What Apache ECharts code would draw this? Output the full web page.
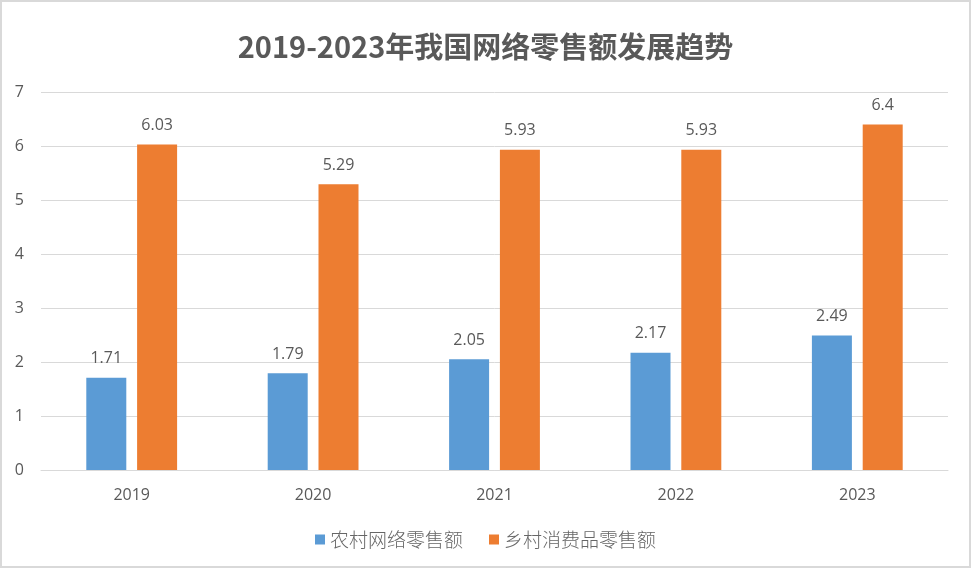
<!DOCTYPE html>
<html>
<head>
<meta charset="utf-8">
<script src="https://cdn.jsdelivr.net/npm/echarts@6/dist/echarts.min.js"></script>
<style>
  html, body { margin: 0; padding: 0; background: #fff; }
  #main { width: 971px; height: 568px; }
</style>
</head>
<body>
<div id="main"></div>
<script type="text/javascript">
// data
var years = ['2019', '2020', '2021', '2022', '2023'];
var ruralOnline = [1.71, 1.79, 2.05, 2.17, 2.49];
var ruralConsumer = [6.03, 5.29, 5.93, 5.93, 6.4];
var seriesNames = ['农村网络零售额', '乡村消费品零售额'];

var textColor = '#595959';
var numFont = '"Open Sans", "Noto Sans", sans-serif';
var cjkFont = '"Noto Sans CJK SC", sans-serif';

var chart = echarts.init(document.getElementById('main'));

var barLabel = {
    show: true,
    position: 'top',
    distance: 11,
    color: textColor,
    fontSize: 16,
    fontFamily: numFont
};

var option = {
    backgroundColor: '#fff',
    animation: false,
    title: {
        text: '2019-2023年我国网络零售额发展趋势',
        left: 'center',
        top: 27,
        textStyle: {
            color: textColor,
            fontSize: 29,
            fontWeight: 'bold',
            fontFamily: cjkFont
        }
    },
    legend: {
        data: seriesNames,
        left: 'center',
        top: 525,
        itemWidth: 10,
        itemHeight: 10,
        itemGap: 26,
        icon: 'rect',
        textStyle: {
            color: '#666',
            fontSize: 19,
            fontWeight: 300,
            fontFamily: cjkFont
        }
    },
    grid: {
        left: 41,
        right: 23,
        top: 92,
        bottom: 98,
        containLabel: false
    },
    xAxis: {
        type: 'category',
        data: years,
        axisLine: { lineStyle: { color: '#d9d9d9', width: 1 } },
        axisTick: { show: false },
        axisLabel: {
            color: textColor,
            fontSize: 16,
            fontFamily: numFont,
            margin: 17
        }
    },
    yAxis: {
        type: 'value',
        min: 0,
        max: 7,
        interval: 1,
        axisLine: { show: false },
        axisTick: { show: false },
        splitLine: { lineStyle: { color: '#d9d9d9', width: 1 } },
        axisLabel: {
            color: textColor,
            fontSize: 16,
            fontFamily: numFont,
            margin: 17
        }
    },
    series: [
        {
            name: seriesNames[0],
            type: 'bar',
            data: ruralOnline,
            barWidth: 40,
            barGap: '27%',
            itemStyle: { color: '#5b9bd5' },
            label: barLabel
        },
        {
            name: seriesNames[1],
            type: 'bar',
            data: ruralConsumer,
            barWidth: 40,
            barGap: '27%',
            itemStyle: { color: '#ed7d31' },
            label: barLabel
        }
    ],
    graphic: [
        {
            type: 'rect',
            silent: true,
            shape: { x: 1, y: 1, width: 969, height: 566 },
            style: { fill: 'none', stroke: '#d9d9d9', lineWidth: 2 }
        }
    ]
};

chart.setOption(option);
</script>
</body>
</html>
